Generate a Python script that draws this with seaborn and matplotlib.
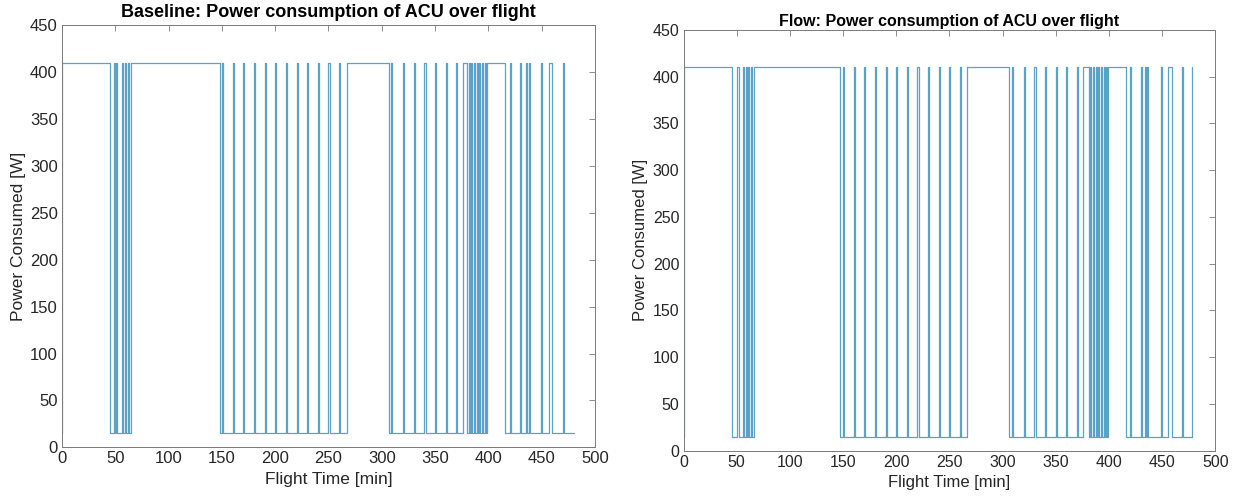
import matplotlib
matplotlib.use("Agg")
import matplotlib.pyplot as plt
import seaborn as sns
import pandas as pd

# ---------------- data (switch times [min] and power level after each switch [W]) -------------
baseline_time = [0, 0.3, 45.5, 48.5, 49.5, 51, 52, 56, 57, 59.5, 60.5, 62, 63, 65,
                 148.5, 150, 151,
                 160, 161, 170, 171, 180, 181, 190, 191, 200, 201, 210, 211, 220, 221,
                 230, 231, 240, 241, 250, 251, 260, 261,
                 267.5, 306.5, 309, 310,
                 320, 321, 330, 331, 340, 341, 350, 351, 360, 361, 370, 371,
                 376, 380, 381.5, 382.5, 384, 385, 386.5, 387.5, 389, 390, 391.5, 392.5,
                 394, 395, 396.5, 397.5, 399,
                 416, 420, 421, 430, 431, 435.5, 436.5, 438, 439, 449.5, 450.5,
                 456.5, 459.5, 469.5, 470.5, 480]
baseline_power = [15, 410, 15, 410, 15, 410, 15, 410, 15, 410, 15, 410, 15, 410,
                  15, 410, 15,
                  410, 15, 410, 15, 410, 15, 410, 15, 410, 15, 410, 15, 410, 15,
                  410, 15, 410, 15, 410, 15, 410, 15,
                  410, 15, 410, 15,
                  410, 15, 410, 15, 410, 15, 410, 15, 410, 15, 410, 15,
                  410, 15, 410, 15, 410, 15, 410, 15, 410, 15, 410, 15,
                  410, 15, 410, 15, 410,
                  15, 410, 15, 410, 15, 410, 15, 410, 15, 410, 15,
                  410, 15, 410, 15, 15]

flow_time = [0, 0.3, 46, 50, 52, 56, 57, 58.5, 59.5, 61, 62, 63.5, 64.5, 66,
             147.5, 149.5, 150.5,
             160, 161, 170, 171, 180, 181, 190, 191, 200, 201, 210, 211, 220, 221,
             230, 231, 240, 241, 250, 251, 260, 261,
             266.5, 306.5, 309, 310,
             320, 321, 330, 331, 340, 341, 350, 351, 360, 361, 370, 371,
             376, 381, 382.5, 383.5, 385, 386, 387.5, 388.5, 390, 391, 392.5, 393.5,
             395, 396, 397.5, 398.5, 399.5,
             416, 420, 421, 430, 431, 433.5, 434.5, 436, 437, 449, 450,
             455.5, 459, 469, 470, 478]
flow_power = [15, 410, 15, 410, 15, 410, 15, 410, 15, 410, 15, 410, 15, 410,
              15, 410, 15,
              410, 15, 410, 15, 410, 15, 410, 15, 410, 15, 410, 15, 410, 15,
              410, 15, 410, 15, 410, 15, 410, 15,
              410, 15, 410, 15,
              410, 15, 410, 15, 410, 15, 410, 15, 410, 15, 410, 15,
              410, 15, 410, 15, 410, 15, 410, 15, 410, 15, 410, 15,
              410, 15, 410, 15, 410,
              15, 410, 15, 410, 15, 410, 15, 410, 15, 410, 15,
              410, 15, 410, 15, 410]

titles = ["Baseline: Power consumption of ACU over flight",
          "Flow: Power consumption of ACU over flight"]
x_label = "Flight Time [min]"
y_label = "Power Consumed [W]"
x_ticks = [0, 50, 100, 150, 200, 250, 300, 350, 400, 450, 500]
y_ticks = [0, 50, 100, 150, 200, 250, 300, 350, 400, 450]

# ---------------- style ----------------
sns.set_theme(style="white")
plt.rcParams["font.family"] = ["Liberation Sans", "DejaVu Sans"]
plt.rcParams["path.simplify"] = False

LINE = "#5aa2c6"
AX = "#7a7a7a"
TXT = "#262626"

fig = plt.figure(figsize=(12.34, 4.96), dpi=100)
ax_pos = [[0.0502, 0.0982, 0.4320, 0.8506],
          [0.5539, 0.0913, 0.4309, 0.8484]]
# the two panels in the source were captured at slightly different text scales
title_size = [13.0, 11.5]
title_pad = [6, 3]
label_size = [12.5, 12.0]
tick_size = [12.0, 11.5]

series = [(baseline_time, baseline_power), (flow_time, flow_power)]

for i, (pos, (t, p), title) in enumerate(zip(ax_pos, series, titles)):
    ax = fig.add_axes(pos)
    df = pd.DataFrame({"time": t, "power": p})
    sns.lineplot(data=df, x="time", y="power", ax=ax, color=LINE, linewidth=0.9,
                 drawstyle="steps-post", estimator=None, sort=False)
    ax.set_xlim(0, 500)
    ax.set_ylim(0, 450)
    ax.set_xticks(x_ticks)
    ax.set_yticks(y_ticks)
    ax.set_title(title, fontsize=title_size[i], fontweight="bold", color="black",
                 pad=title_pad[i])
    ax.set_xlabel(x_label, fontsize=label_size[i], color=TXT, labelpad=4)
    ax.set_ylabel(y_label, fontsize=label_size[i], color=TXT, labelpad=3)
    ax.tick_params(direction="in", length=4, width=0.6, colors=AX, labelcolor=TXT,
                   labelsize=tick_size[i], top=True, right=True, pad=3)
    for s in ax.spines.values():
        s.set_visible(True)
        s.set_color(AX)
        s.set_linewidth(0.7)

fig.savefig("out.png", dpi=100, facecolor="white")
